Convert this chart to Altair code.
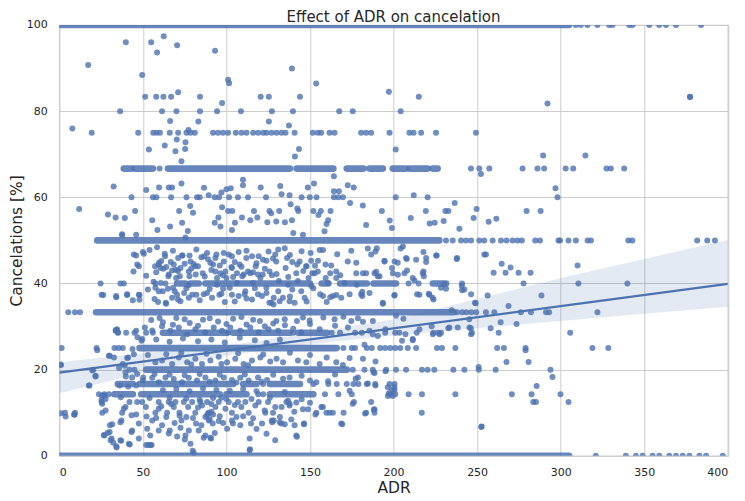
import altair as alt
import pandas as pd

BLUE = "#4c72b0"
FONT = "DejaVu Sans"
TEXT = "#262626"
TITLE = "Effect of ADR on cancelation"

# rows where many bookings share the same ratio: (cancel %, adr from, adr to)
dense_rows = [
    (100, 0, 305), (0, 0, 305),
    (66.67, 38.6, 43.2), (66.67, 45, 56), (66.67, 65, 138), (66.67, 142, 164),
    (66.67, 172, 182), (66.67, 185.6, 193.6), (66.67, 199.5, 207.5),
    (66.67, 209.5, 220.4), (66.67, 223.4, 226.4),
    (50, 22.7, 227.4),
    (40, 70.5, 75.5), (40, 78.5, 83.4), (40, 87.4, 150), (40, 157, 161),
    (40, 168, 184), (40, 188, 201.5), (40, 223.5, 231.4),
    (33.33, 22, 236),
    (28.57, 62, 100), (28.57, 104, 138), (28.57, 143, 160),
    (25, 48, 166),
    (20, 52, 172),
    (16.67, 35, 44), (16.67, 48, 104), (16.67, 110, 118), (16.67, 126, 144),
    (14.29, 33, 44), (14.29, 49, 96), (14.29, 100, 112), (14.29, 126, 152),
]

# single points sitting on a common ratio: cancel % -> adr values
on_level = {
    100: [309, 312, 316, 322, 329, 331, 341, 343, 353, 359, 363, 369, 384],
    0: [321, 339, 345, 349, 355, 359, 365, 369, 373, 377, 383, 387, 397],
    83.33: [51.4, 58, 62.3, 66.9, 84.2, 120.5, 125.4, 144, 215.1, 377.4],
    80: [36.4, 61.5, 70.1, 84.2, 94.4, 108.7, 127.2, 139.8, 167.5, 175.6, 204.3],
    75: [19.4, 47.2, 56.2, 58.2, 60.2, 66.1, 71.1, 76.1, 78.5, 81.1, 92, 95, 98,
         101, 105.6, 109, 112, 116, 119, 122, 124, 127, 130, 133, 135.4, 140.8,
         151.7, 154.7, 156.7, 161.7, 164.7, 180.6, 183.6, 186.6, 197.6, 209.5,
         212, 216.5, 225.4, 249.3],
    66.67: [60, 246.3, 251.3, 257.3, 277.2, 286.1, 290.1, 303, 307.5, 327.4, 330, 338],
    60: [43.2, 56, 58.1, 66.9, 76.1, 82.4, 84, 93, 95.6, 101.6, 106.9, 112.9,
         123.7, 145, 149.9, 153.9, 164.3, 166.9, 169.7, 201.3, 220.4, 298.1],
    50: [231.4, 235.4, 240.4, 243.4, 246.4, 251.3, 254.3, 259.3, 264.3, 267.6,
         271.2, 274.2, 276.8, 284.8, 287.6, 298.7, 299.6, 304.7, 309.1, 316.1,
         318.1, 340.5, 342.9, 381.7, 387.7, 392.3],
    40: [24.7, 36.6, 38.6, 57.5, 63.5, 209, 215, 241, 277.8, 310.6, 339.9],
    33.33: [5.4, 9.4, 12.4, 238, 241, 243.5, 246.4, 249.4, 255.3, 260.3, 276.2,
            282.2, 291.2, 293.1, 322],
    28.57: [35, 40, 45, 52, 56, 101, 140, 163, 168, 177, 181, 195, 201, 203.5,
            213.9, 223.8, 226.6, 228.4, 246.9, 262.9, 305.7],
    25: [1.4, 22.3, 33, 35.5, 38, 170, 175, 177, 184, 187, 192, 195, 198, 201,
         204, 208.5, 213.5, 226, 229, 237, 262, 266, 279, 319, 328.5],
    20: [20.3, 42, 45, 175.6, 182.6, 187.6, 195.6, 201.5, 207.5, 217, 220.4,
         224.4, 235.8, 242.4, 251, 261.1, 293.9],
    16.67: [122, 152, 161, 166, 172, 176, 179, 184, 189, 197.6, 200.6],
    14.29: [23.7, 27, 29.7, 119, 122, 159, 167, 175, 198, 201, 209, 217, 237,
            270.8, 282.6, 299.9],
    12.5: [25.3, 42, 46.6, 49.6, 59.5, 65.5, 69.5, 74.5, 79.5, 84.4, 88.4, 95.4,
           101.4, 106.9, 111.3, 119.3, 124.9, 135.9, 176.3, 186.6, 283.6, 285.2, 304.7],
    10: [3.4, 9.4, 25.7, 37.6, 57.5, 64.5, 71.9, 81.4, 89.4, 103.3, 113.3, 123.3,
         127.9, 153.8, 159.8, 161.7, 163.7, 170.1, 183.6, 188.6, 216.9],
}

# scattered points (adr, cancel %)
upper_points = [
    (17.3, 90.7), (7.8, 76.0), (11.9, 57.3), (39.8, 96.0), (55, 96.0), (58.5, 93.6),
    (62.5, 97.4), (70.5, 95.3), (49.6, 88.4), (66.3, 77.7), (63.1, 72.0), (53.6, 71.1),
    (69.5, 70.7), (70.3, 73.4), (75.5, 72.8), (75.3, 71.2), (73.1, 68.4), (77.3, 75.6),
    (83.2, 77.6), (93.2, 94.0), (97.4, 81.9), (101, 87.3), (101.6, 86.5), (125.4, 77.6),
    (137.4, 76.7), (139.2, 89.9), (141, 69.5), (143.4, 71.2), (153.7, 86.4), (71.1, 84.4),
    (197.2, 84.5), (201.3, 71.1), (292.1, 81.8), (289.5, 69.7), (314.8, 69.7),
    (252.3, 65.4), (296.9, 62.1), (212.1, 60.5), (236.6, 58.7), (193, 56.8), (219.3, 56.8),
    (231, 56.8), (232.8, 56.8), (249.7, 57.3), (279.6, 56.8), (288, 56.8), (210.3, 55.2),
    (197.7, 54.6), (247.9, 55.2), (256.9, 54.3), (261.5, 55.0), (199, 52.9), (221.6, 53.9),
    (224.6, 54.1), (230, 54.5), (239.4, 52.7), (377.4, 83.3),
]
mid_high_points = [
    (32.5, 62.5), (33.7, 55.3), (39.2, 55.2), (29.1, 56.0), (37.6, 51.4), (45.4, 56.8),
    (46, 51.3), (52, 61.7), (55.6, 54.7), (59.7, 62.3), (58.7, 52.4), (66.3, 53.2),
    (65.5, 62.3), (67.5, 62.3), (71.7, 56.8), (73.1, 63.2), (73.5, 54.1), (78.3, 58.0),
    (80, 56.4), (76.9, 52.2), (86.6, 62.2), (89.4, 60.5), (93, 54.1), (95.2, 55.3),
    (96.4, 53.2), (97, 61.1), (97.4, 57.7), (100, 61.9), (101, 56.8), (102.6, 62.1),
    (103.5, 56.8), (103.3, 52.4), (105.1, 54.1), (109.3, 55.3), (109.9, 64.1), (109.9, 62.8),
    (114.3, 54.7), (116.5, 56.8), (118.5, 55.3), (120.5, 62.3), (124.5, 54.2), (125.7, 56.8),
    (126.8, 56.3), (129.8, 54.4), (131.6, 56.8), (132.2, 62.6), (133, 60.7), (135, 54.2),
    (137.8, 60.5), (138.4, 58.4), (139.2, 54.7), (140, 51.7), (142.4, 57.4), (143, 56.8),
    (145.8, 51.3), (148.7, 62.3), (152.4, 63.2), (152, 56.8), (155.1, 55.9), (156.5, 56.8),
    (158.7, 52.1), (159.9, 53.8), (160.9, 54.7), (162.3, 56.8), (164.3, 64.9), (164.3, 61.4),
    (167.3, 61.4), (172.6, 62.8), (174, 58.7), (176.2, 62.3), (181.6, 58.1), (183.6, 53.6),
    (37.6, 51.2), (58.5, 48.4), (75.5, 50.7),
]
mid_left_points = [
    (44.6, 46.7), (46, 46.5), (50, 47.3), (63.1, 46.9), (73.5, 46.5), (77.9, 46.5),
    (78.5, 45.1), (83, 44.0), (86.6, 46.3), (88.4, 47.1), (90.4, 44.8), (93.4, 45.9),
    (98.4, 47.1), (101.4, 46.7), (103.3, 46.3), (107.3, 47.3), (115.3, 46.3), (119.3, 46.3),
    (125.2, 47.4), (129.2, 46.7), (46.6, 44.4), (47.6, 44.0), (59.5, 44.4), (60.5, 43.6),
    (68.5, 44.4), (72.5, 43.6), (65.5, 42.1), (67.5, 43.0), (69.9, 41.3), (77.5, 42.8),
    (77.9, 41.7), (81.4, 44.0), (85.8, 42.4), (93.4, 42.8), (94.4, 41.3), (99.4, 42.8),
    (103.3, 43.6), (106.3, 42.4), (110.3, 42.1), (114.3, 42.4), (118.9, 42.1), (121.7, 42.1),
    (127.2, 41.9), (57.5, 39.0), (59.5, 38.2), (61.9, 38.2), (69.1, 38.2), (70.5, 37.4),
    (79.5, 37.4), (25.3, 37.4), (34.1, 36.8), (40.6, 37.3), (44, 36.1), (47.6, 37.4),
    (59.1, 35.7), (63.9, 35.3), (67.5, 36.7), (72.5, 35.9), (77.5, 36.7), (82, 37.4),
    (88.4, 37.8), (91.4, 36.7), (95.8, 37.4), (99, 35.7), (103.3, 37.4), (107.3, 37.1),
    (111.3, 38.2), (115.3, 36.3), (121.3, 37.1), (125.7, 35.5), (26.3, 37.3), (34, 37.1),
    (40.6, 37.5), (44.4, 42.8), (48, 37.3), (48, 36.2), (50.6, 46.9), (56.4, 40.4),
    (57.3, 44.0), (59.7, 44.8), (60.7, 40.1), (62.3, 43.4), (63.3, 46.3), (63.7, 35.5),
    (65.3, 41.7), (66.7, 45.0), (68.1, 39.0), (69.7, 43.2), (71.1, 45.9), (72.1, 41.7),
    (73.7, 46.5), (74.7, 37.8), (77.3, 39.6), (80.4, 44.5), (81.6, 42.1), (85, 46.1),
    (86.4, 37.5), (92, 44.4), (94, 46.7), (94.4, 39.7), (96.4, 42.4), (97, 37.6),
    (98.4, 45.1), (100, 41.3), (102, 39.0), (103, 43.8), (106.3, 40.1), (107.9, 44.4),
    (109.5, 41.7), (110.9, 37.5), (111.9, 45.9), (112.9, 42.8), (115.9, 40.1), (117.5, 44.0),
    (118.9, 37.5), (120.3, 41.3), (121.9, 45.5), (123.9, 39.0), (125.8, 42.8), (128.2, 35.1),
    (129.8, 45.1), (131.4, 40.6), (133.8, 36.7), (135.4, 43.6), (136.8, 39.7), (139.4, 38.6),
    (142.4, 44.4), (142.8, 40.6), (144.8, 38.2), (147.8, 44.0), (149.1, 41.3), (150.7, 45.3),
    (154.7, 42.8), (156.1, 37.5), (159.3, 44.4), (160.7, 40.1), (163.7, 37.1), (165.7, 42.8),
    (170.7, 40.1), (172.6, 45.1), (178, 39.7), (180.6, 37.5), (183.6, 42.4),
    (33.7, 29.0), (34.6, 29.4), (46, 29.0), (51.2, 29.8), (55.6, 29.1), (61.5, 30.1),
    (66.5, 29.0), (71.5, 29.8), (76.5, 28.2), (81.4, 29.4), (87.4, 28.6), (92.4, 29.8),
    (97.4, 29.0), (102.3, 29.8), (108.3, 29.0), (114.3, 29.8), (119.3, 28.6), (125.2, 29.4),
    (49.6, 27.1), (33.9, 29.2), (35.2, 28.6), (46.8, 27.5), (49.2, 26.7),
    (55, 31.5), (62, 31.0), (70, 32.0), (78, 30.8), (86, 31.6), (95, 31.2), (104, 31.8),
    (112, 30.5), (120, 31.3), (128, 30.7), (58, 27.0), (66, 26.5), (74, 27.2), (83, 26.6),
    (91, 27.0), (99, 26.3), (108, 27.4), (117, 26.8), (124, 26.2), (132, 27.0),
]
low_left_points = [
    (1, 21.1), (1, 9.9), (3.8, 9.1), (9.2, 9.5), (18, 16.3), (21.7, 18.4), (25.3, 13.0),
    (25.7, 12.1), (27.3, 14.0), (27.7, 10.5), (26.9, 4.7), (28.9, 5.3), (30.3, 7.1),
    (31.3, 4.0), (32.3, 3.0), (34.3, 1.9), (35.8, 20.4), (36.2, 16.3), (36.8, 13.6),
    (36.6, 7.8), (37, 3.5), (39.8, 18.4), (41.2, 16.1), (39.6, 11.3), (42.2, 2.6),
    (43.2, 5.5), (46, 16.3), (47.6, 7.5), (50.2, 18.2), (51.8, 11.3), (52.2, 9.1),
    (53.2, 2.5), (55.2, 2.5), (54.4, 4.7), (66.1, 5.9), (75.5, 4.7), (78.5, 2.8),
    (79.8, 1.2), (87.4, 4.7), (89, 9.8), (89.4, 8.2), (90.8, 4.0), (103.9, 7.5),
    (113.9, 4.0), (114.1, 1.5), (114.7, 7.5), (122.9, 10.5), (127.4, 7.8), (132.8, 7.5),
    (137.8, 12.1), (140.6, 10.2), (141.8, 4.7), (146.4, 7.5), (153.3, 9.6), (157.7, 11.3),
    (168.7, 7.5), (175.6, 12.1), (183, 9.8), (0.8, 21.2), (22.7, 24.5), (19.7, 19.8),
    (21.7, 18.6), (17.7, 16.3), (29.7, 23.2), (32.7, 22.8), (38, 21.3), (41.2, 22.8),
    (44.6, 23.6), (39.6, 19.4), (43.6, 18.2), (46.6, 19.0), (25.7, 14.0), (27.7, 13.2),
    (38.6, 10.9), (46, 9.6), (8.8, 9.6), (31.7, 7.3), (37.2, 8.2), (43.2, 9.4),
    (26.7, 4.8), (30.1, 5.5), (30.7, 3.6), (34.1, 2.2), (36.6, 3.6), (41.6, 2.8),
    (43.6, 5.9), (52, 2.5), (54.6, 2.5), (47.6, 4.0), (52.6, 6.3), (55.6, 8.2),
    (59.5, 5.9), (61.5, 7.1), (65.5, 5.2), (70.5, 4.5), (72.5, 6.5), (73.1, 8.2),
    (75.1, 3.8), (77.5, 5.9), (80.4, 0.7), (81.8, 7.5), (83.4, 5.9), (86.4, 4.2),
    (87.4, 9.0), (90.4, 4.2), (88.4, 9.4), (91.8, 7.5), (95.4, 8.1), (100.4, 6.3),
    (103.3, 8.2), (108.3, 7.1), (113.9, 1.3), (121.3, 7.5), (127.2, 8.2), (129.2, 3.6),
    (59.5, 10.9), (68.5, 11.3), (77.1, 11.3), (85.4, 11.7), (93.4, 11.3), (99.4, 10.9),
    (108.9, 11.3), (117.3, 11.7), (129.2, 11.3), (55.6, 18.1), (59.5, 17.1), (63.5, 18.2),
    (68.5, 17.8), (73.5, 17.1), (77.5, 18.1), (82.4, 17.5), (87.4, 18.2), (93.4, 17.5),
    (98.4, 18.2), (103.3, 17.6), (108.3, 18.1), (113.3, 17.5), (118.9, 18.2), (124.3, 17.6),
    (57.5, 21.7), (61.5, 22.1), (67.5, 21.3), (71.5, 22.8), (76.5, 21.7), (81.4, 22.5),
    (85.4, 21.3), (90.4, 22.1), (95.4, 23.0), (100.4, 21.7), (105.3, 22.5), (110.3, 21.3),
    (115.3, 22.1), (120.3, 22.8), (126.2, 21.9), (62, 15.2), (70, 15.5), (78, 15.0),
    (86, 15.6), (94, 15.3), (102, 15.1), (110, 15.5), (118, 15.0), (64, 9.0), (72, 9.3),
    (80, 8.8), (96, 9.2), (106, 9.0), (116, 8.7), (84, 13.0), (92, 13.4), (100, 13.2),
    (66, 13.5), (90, 8.5), (92, 9.6), (91, 10.2), (30.1, 23.2), (43.8, 24.8),
    (40.6, 22.7), (39.2, 20.9),
]
cluster_points = [
    (54, 47.8), (61, 45.2), (68, 47.6), (75, 44.6), (82, 47.9), (89, 45.6), (96, 44.2),
    (105, 45.0), (112, 47.6), (118, 44.7), (124, 45.3), (131, 47.9), (138, 46.6), (145, 47.5),
    (52, 41.8), (58, 42.6), (64, 43.8), (71, 42.9), (79, 43.5), (87, 41.6), (91, 43.1),
    (98, 41.9), (104, 41.5), (109, 43.9), (116, 42.6), (123, 43.4), (130, 42.2), (137, 41.5),
    (146, 42.9), (153, 44.1), (53, 38.6), (57, 36.4), (65, 38.8), (71, 36.3), (76, 38.9),
    (84, 36.1), (90, 38.7), (98, 38.8), (105, 35.8), (112, 36.5), (117, 38.9), (124, 37.8),
    (131, 38.2), (138, 37.0), (148, 35.8), (152, 38.9), (160, 35.7), (60, 32.0), (68, 30.4),
    (75, 31.7), (83, 30.2), (90, 31.9), (100, 30.6), (109, 32.2), (116, 31.6), (123, 30.1),
    (135, 30.3), (140, 29.5), (150, 30.6), (158, 32.1), (165, 30.2), (170, 32.3), (53, 23.4),
    (64, 23.6), (73, 23.9), (79, 21.2), (88, 23.7), (97, 21.3), (107, 23.8), (113, 21.0),
    (122, 23.5), (130, 22.5), (138, 23.9), (150, 23.4), (160, 22.8), (50, 17.5), (57, 19.0),
    (66, 18.9), (75, 18.7), (84, 19.0), (90, 17.2), (96, 18.8), (106, 17.0), (111, 18.9),
    (121, 17.2), (128, 18.8), (145, 18.6), (150, 17.5), (165, 18.9), (54, 13.4), (61, 11.5),
    (67, 12.0), (76, 13.3), (83, 11.2), (91, 12.0), (97, 13.5), (105, 11.8), (115, 13.2),
    (126, 13.5), (133, 11.3), (145, 13.1), (150, 12.3), (58, 8.8), (69, 7.6), (76, 9.0),
    (85, 7.1), (93, 5.3), (98, 7.6), (110, 9.2), (118, 6.2), (124, 5.1), (132, 9.0),
]
right_points = [
    (134.9, 48.2), (127.9, 45.8), (136.3, 45.9), (139.4, 45.0), (143.8, 45.1), (147.8, 44.0),
    (150.4, 47.1), (155.8, 47.8), (157.8, 47.8), (154.8, 45.3), (162.7, 44.2), (166.3, 46.8),
    (174.7, 47.6), (177.7, 44.8), (184.6, 48.1), (186.6, 46.7), (189.2, 47.4), (190, 48.2),
    (194.6, 45.3), (200.6, 45.1), (204.2, 48.1), (205.6, 48.6), (207.5, 45.9), (213.5, 45.5),
    (217.9, 47.3), (219.5, 45.9), (225.5, 46.5), (238, 45.9), (254.3, 46.7), (141.8, 42.4),
    (151.4, 42.4), (152.8, 42.4), (159.4, 41.3), (162.1, 42.4), (165.7, 41.3), (177.7, 42.4),
    (181.7, 42.4), (188.6, 42.4), (190.6, 41.7), (199.6, 42.4), (202.6, 42.0), (206.5, 42.4),
    (208.1, 43.0), (211.5, 41.3), (217.9, 42.8), (218.1, 41.7), (168.1, 41.9), (146.8, 36.7),
    (150.8, 39.4), (157.8, 37.1), (162.1, 36.8), (165.7, 37.3), (168.7, 36.7), (173.7, 37.5),
    (181.3, 38.1), (181.3, 37.1), (185.6, 37.8), (193.6, 35.5), (200.6, 37.3), (214.1, 37.5),
    (221.1, 37.6), (223.9, 36.3), (231.4, 38.8), (241, 38.4), (246.4, 37.5), (248.8, 35.5),
    (137.8, 35.9), (140.8, 35.5), (126.9, 35.5), (128.3, 36.7), (131.9, 35.9), (129.9, 31.3),
    (134.9, 31.7), (142.2, 31.3), (145.8, 32.1), (149.8, 31.4), (155.8, 29.4), (164.7, 31.7),
    (174.7, 31.3), (178.7, 31.9), (181.7, 31.1), (130.9, 29.0), (144.8, 28.6), (172.7, 29.8),
    (185.6, 29.0), (187.6, 28.2), (205.1, 26.7), (211.5, 27.1), (223.5, 28.2), (227.5, 28.2),
    (233.4, 29.8), (238.4, 29.8), (245.4, 29.8), (246.4, 28.2), (255.3, 46.7), (237.8, 45.7),
    (225.8, 46.5), (207.9, 45.7), (310.1, 44.2), (259.9, 42.5), (264.7, 44.6), (267, 42.5),
    (270, 43.7), (274.8, 42.5), (282, 42.5), (288.5, 37.2), (268.8, 34.8), (264.1, 31.0),
    (273.6, 30.6), (258.1, 29.6), (249.1, 35.4), (256.3, 37.2), (246.3, 29.6), (250.9, 20.6),
    (267.6, 21.8), (280.8, 21.8), (279, 24.5), (295.1, 18.3), (285.6, 16.2), (252.7, 6.8),
    (232.8, 29.6), (234.8, 33.8), (230.2, 39.8), (240.8, 39.5), (242.4, 38.6), (245.3, 31.7),
    (215.5, 37.4), (221.4, 37.4), (223.4, 36.7), (228.4, 39), (217.5, 42.4), (219.5, 45),
    (212.5, 40.7), (205.9, 31.8), (207.1, 28.2), (211.5, 26.8), (215.5, 29.4), (222.8, 30.1),
    (195.2, 29.4), (190.6, 27.8), (193.6, 35.3), (187.6, 31.3), (200.5, 37.2), (201.5, 32.5),
    (189.6, 42.7), (191.6, 41.7), (194.6, 45.1), (199.1, 43.6), (202.5, 44.8), (188, 19.4),
    (189.2, 16.3), (196.6, 15.9), (199.1, 15.3), (200.5, 15.9), (196.6, 13.9), (199.5, 13.9),
    (188.2, 10.7), (182.6, 25.8), (173.7, 22.7), (181.7, 22.5), (189.2, 21.9), (133.9, 21.7),
    (142.8, 22.1), (147.8, 21.7), (155.8, 21.3), (165.7, 21.7), (188.6, 19.2), (195.2, 19.6),
    (169.7, 21.1), (178.7, 18.2), (177.3, 17.9), (184.6, 16.8), (133.9, 17.9), (137.8, 18.2),
    (160.8, 17.3), (153.8, 17.1), (197.2, 14.5), (200.6, 15.3), (134.9, 14.8), (173.7, 15.1),
    (136.9, 12.8), (141.8, 12.4), (137.8, 11.7), (145.8, 10.8), (148.8, 10.8), (156.8, 11.3),
    (188.6, 10.8), (128.3, 8.2), (131.9, 7.8), (134.9, 7.3), (138.8, 8.4), (140.8, 7.1),
    (146.4, 7.3), (169.3, 7.3), (142.2, 4.4), (252.5, 6.7),
]

# fitted line and its confidence band
fit_adr = [0, 400]
fit_pct = [19.3, 39.9]
band_adr = [0, 50, 100, 150, 200, 250, 300, 350, 400]
band_low = [14.5, 19.2, 23.3, 25.9, 27.9, 29.6, 31.3, 33.0, 34.6]
band_high = [21.7, 23.8, 25.6, 28.4, 31.7, 36.4, 41.3, 45.7, 50.1]

rows = []
for level, adrs in on_level.items():
    rows += [(a, level) for a in adrs]
rows += upper_points + mid_high_points + mid_left_points + low_left_points
rows += cluster_points + right_points
points = pd.DataFrame(rows, columns=["adr", "pct"])
runs = pd.DataFrame(dense_rows, columns=["pct", "start", "end"])
fit = pd.DataFrame({"adr": fit_adr, "pct": fit_pct})
band = pd.DataFrame({"adr": band_adr, "low": band_low, "high": band_high})

PLOT_W = 668.5
PLOT_H = 430.8

x_scale = alt.Scale(domain=[0, 400], nice=False, zero=False)
y_scale = alt.Scale(domain=[0, 100], nice=False)
x_axis = alt.Axis(
    values=list(range(0, 401, 50)), title="ADR", titleY=36.6,
    titleBaseline="alphabetic", labelPadding=11,
)
y_axis = alt.Axis(
    values=list(range(0, 101, 20)), title="Cancelations [%]", titleX=-37.5,
    titleBaseline="alphabetic", labelPadding=12,
)

scatter = alt.Chart(points).mark_circle(size=36, color=BLUE, opacity=0.8, clip=True).encode(
    x=alt.X("adr:Q", scale=x_scale, axis=x_axis),
    y=alt.Y("pct:Q", scale=y_scale, axis=y_axis),
)
dense = alt.Chart(runs).mark_rule(
    color=BLUE, strokeWidth=6.6, strokeCap="round", opacity=0.85, clip=True
).encode(x="start:Q", x2="end:Q", y="pct:Q")
ci = alt.Chart(band).mark_area(color=BLUE, opacity=0.15, clip=True).encode(
    x="adr:Q", y="low:Q", y2="high:Q"
)
line = alt.Chart(fit).mark_line(color=BLUE, strokeWidth=2.2, clip=True).encode(
    x="adr:Q", y="pct:Q"
)
# chart title, set just above the plot frame
heading = alt.Chart(pd.DataFrame({"t": [TITLE]})).mark_text(
    font=FONT, fontSize=15, color=TEXT, align="center", baseline="alphabetic"
).encode(x=alt.value(PLOT_W / 2), y=alt.value(-3), text="t:N")

chart = (
    alt.layer(scatter, dense, ci, line, heading)
    .properties(
        width=PLOT_W,
        height=PLOT_H,
        autosize=alt.AutoSizeParams(type="none"),
        padding={"left": 51.3, "top": 17, "right": 6, "bottom": 40},
    )
    .configure_view(stroke="#cccccc", strokeWidth=1.2)
    .configure_axis(
        labelFont=FONT, labelFontSize=11, labelColor=TEXT,
        titleFont=FONT, titleFontSize=15.5, titleFontWeight="normal", titleColor=TEXT,
        grid=True, gridColor="#cccccc", gridWidth=1,
        domain=False, ticks=False, tickSize=0,
    )
)

chart.save("out.html", embed_options={"renderer": "svg", "actions": False})
